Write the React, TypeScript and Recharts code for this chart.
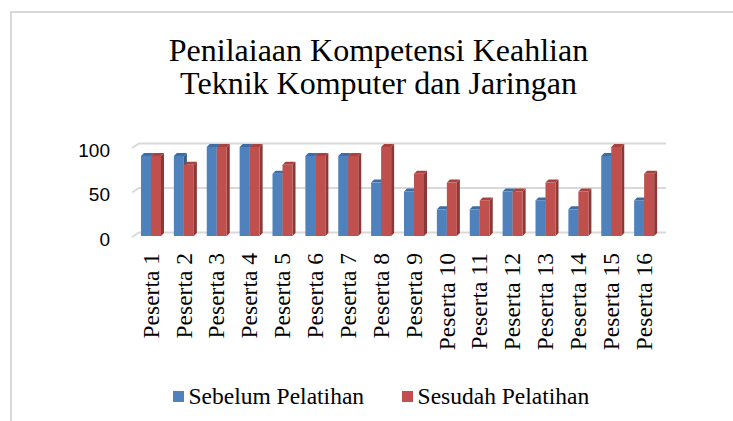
import React from 'react';
import { BarChart, Bar, XAxis, YAxis, CartesianGrid } from 'recharts';

const categories = [
  'Peserta 1', 'Peserta 2', 'Peserta 3', 'Peserta 4', 'Peserta 5', 'Peserta 6', 'Peserta 7', 'Peserta 8',
  'Peserta 9', 'Peserta 10', 'Peserta 11', 'Peserta 12', 'Peserta 13', 'Peserta 14', 'Peserta 15', 'Peserta 16',
];
const sebelum = [90, 90, 100, 100, 70, 90, 90, 60, 50, 30, 30, 50, 40, 30, 90, 40];
const sesudah = [90, 80, 100, 100, 80, 90, 90, 100, 70, 60, 40, 50, 60, 50, 100, 70];
const yTicks = [0, 50, 100];
const titleLines = ['Penilaiaan Kompetensi Keahlian', 'Teknik Komputer dan Jaringan'];
const seriesNames = ['Sebelum Pelatihan', 'Sesudah Pelatihan'];

const data = categories.map((c, i) => ({ name: c, sebelum: sebelum[i], sesudah: sesudah[i] }));

const SERIF = 'Tinos, "Times New Roman", "Liberation Serif", serif';
const SANS = '"Liberation Sans", sans-serif';

const BLUE = { front: '#4F81BD', top: '#3E6DA6', side: '#385D8A' };
const RED = { front: '#C0504D', top: '#A8423F', side: '#8C3836' };

const makeBar3D = (c: { front: string; top: string; side: string }) => (props: any) => {
  const { x, y, width, height } = props;
  if (x == null || y == null || !width || height == null) return <g />;
  const d = 3;
  return (
    <g>
      <polygon
        points={`${x + width},${y} ${x + width + d},${y - d} ${x + width + d},${y + height - d} ${x + width},${y + height}`}
        fill={c.side}
      />
      <polygon
        points={`${x},${y} ${x + d},${y - d} ${x + width + d},${y - d} ${x + width},${y}`}
        fill={c.top}
      />
      <rect x={x} y={y} width={width} height={height} fill={c.front} />
    </g>
  );
};

const GridLine3D = (props: any) => {
  const { x1, x2, y1 } = props;
  return (
    <polyline
      key={`g-${y1}`}
      points={`${x1 - 3},${y1 + 1} ${x1 + 4},${y1 - 3.5} ${x2 + 5},${y1 - 3.5}`}
      fill="none"
      stroke="#d9d9d9"
      strokeWidth={2}
    />
  );
};

const YTick = (props: any) => {
  const { x, y, payload } = props;
  return (
    <text x={x} y={y + 3} dy="0.355em" textAnchor="end" style={{ fontFamily: SANS, fontSize: 19 }} fill="#000">
      {payload.value}
    </text>
  );
};

const XTick = (props: any) => {
  const { x, y, payload } = props;
  const cx = x - 1;
  return (
    <g transform={`translate(${cx}, ${y}) rotate(-90)`}>
      <text x={0} y={0} textAnchor="end" dy="0.35em" style={{ fontFamily: SERIF, fontSize: 23.5 }} fill="#000">
        {payload.value}
      </text>
    </g>
  );
};

const legendColors = [BLUE.front, RED.front];

export default function App() {
  return (
    <div style={{ position: 'absolute', left: 0, top: 0, width: 733, height: 421, background: '#fff', fontFamily: SERIF }}>
      <div style={{ position: 'absolute', left: 10, top: 11, width: 723, height: 410, borderLeft: '2px solid #d9d9d9', borderTop: '2px solid #d9d9d9', boxSizing: 'border-box' }} />
      <div style={{ position: 'absolute', left: 0, top: 0 }}>
        <BarChart
          width={733}
          height={421}
          data={data}
          margin={{ top: 147, right: 72, bottom: 0, left: 0 }}
          barGap={0}
        >
          <CartesianGrid vertical={false} horizontal={GridLine3D as any} />
          <XAxis
            dataKey="name"
            interval={0}
            height={185}
            axisLine={false}
            tickLine={false}
            tickMargin={11}
            tick={<XTick />}
          />
          <YAxis
            domain={[0, 100]}
            ticks={yTicks}
            width={135}
            axisLine={false}
            tickLine={false}
            tickMargin={19}
            tick={<YTick />}
          />
          <Bar dataKey="sebelum" name={seriesNames[0]} barSize={10} fill={BLUE.front} shape={makeBar3D(BLUE)} isAnimationActive={false} />
          <Bar dataKey="sesudah" name={seriesNames[1]} barSize={10} fill={RED.front} shape={makeBar3D(RED)} isAnimationActive={false} />
        </BarChart>
      </div>
      <div
        style={{
          position: 'absolute',
          left: 0,
          top: 34,
          width: 757,
          textAlign: 'center',
          fontFamily: SERIF,
          fontSize: 32,
          lineHeight: '33.4px',
          color: '#000',
          whiteSpace: 'nowrap',
        }}
      >
        {titleLines.map((t) => (
          <div key={t}>{t}</div>
        ))}
      </div>
      <div
        style={{
          position: 'absolute',
          left: 173,
          top: 383,
          display: 'flex',
          alignItems: 'center',
          fontFamily: SERIF,
          fontSize: 23.5,
          lineHeight: '26px',
          color: '#000',
          whiteSpace: 'nowrap',
        }}
      >
        {seriesNames.map((n, i) => (
          <div key={n} style={{ display: 'flex', alignItems: 'center', marginRight: 38 }}>
            <span style={{ display: 'inline-block', width: 11, height: 11, background: legendColors[i], marginRight: 4.5 }} />
            <span>{n}</span>
          </div>
        ))}
      </div>
    </div>
  );
}
